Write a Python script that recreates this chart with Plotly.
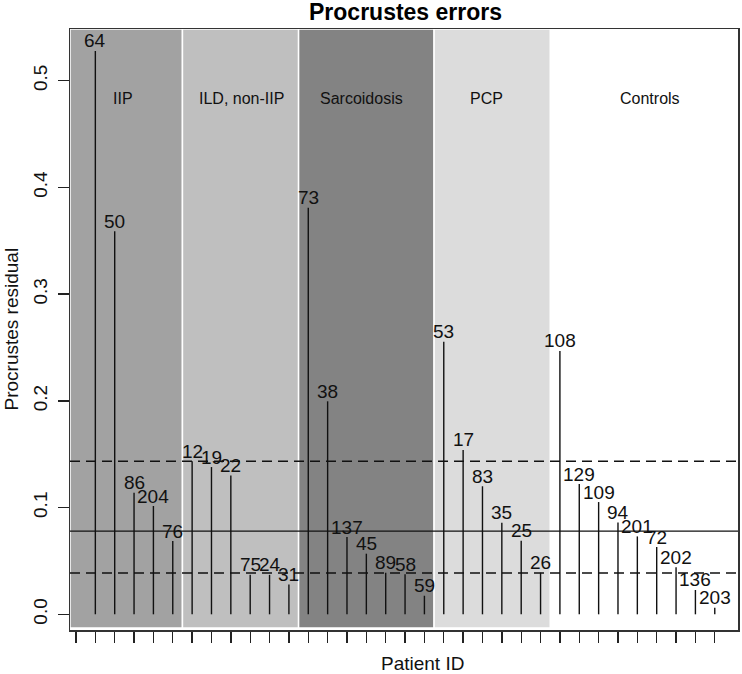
import plotly.graph_objects as go

# ---- data ----
patient_ids = ["64", "50", "86", "204", "76",
               "12", "19", "22", "75", "24", "31",
               "73", "38", "137", "45", "89", "58", "59",
               "53", "17", "83", "35", "25", "26",
               "108", "129", "109", "94", "201", "72", "202", "136", "203"]
residuals = [0.528, 0.359, 0.114, 0.1015, 0.0687,
             0.1434, 0.138, 0.130, 0.037, 0.037, 0.028,
             0.381, 0.1996, 0.0724, 0.0568, 0.039, 0.0375, 0.0174,
             0.2555, 0.154, 0.120, 0.0859, 0.069, 0.039,
             0.2468, 0.1221, 0.1052, 0.086, 0.073, 0.063, 0.044, 0.0228, 0.0062]
group_names = ["IIP", "ILD, non-IIP", "Sarcoidosis", "PCP", "Controls"]
group_sizes = [5, 6, 7, 6, 9]
group_colors = ["#a2a2a2", "#bfbfbf", "#838383", "#dcdcdc", "#ffffff"]
group_label_x = [2.42, 8.54, 14.77, 21.2, 29.67]
group_label_y = 0.483
ref_solid = 0.078
ref_dashed = [0.1434, 0.0387]

x_range = [-0.309, 34.2]
y_range = [-0.0147, 0.5485]

xs = list(range(1, len(residuals) + 1))

fig = go.Figure()

# group shading
shapes = []
start = x_range[0]
edge = 0.5
for name, n, col in zip(group_names, group_sizes, group_colors):
    end = edge + n
    if col.lower() != "#ffffff":
        shapes.append(dict(type="rect", xref="x", yref="y", x0=start, x1=end,
                           y0=-0.0128, y1=y_range[1], fillcolor=col,
                           line=dict(color="white", width=1.5), layer="below"))
    start = end
    edge = end

# reference lines
shapes.append(dict(type="line", xref="x domain", yref="y", x0=0, x1=1,
                   y0=ref_solid, y1=ref_solid,
                   line=dict(color="#111111", width=1.4), layer="above"))
for v in ref_dashed:
    shapes.append(dict(type="line", xref="x domain", yref="y", x0=0, x1=1,
                       y0=v, y1=v,
                       line=dict(color="#111111", width=1.4, dash="10px,6px"),
                       layer="above"))

# vertical lines (type="h")
lx, ly = [], []
for x, v in zip(xs, residuals):
    lx += [x, x, None]
    ly += [0, v, None]
fig.add_trace(go.Scatter(x=lx, y=ly, mode="lines",
                         line=dict(color="#111111", width=1.4),
                         hoverinfo="skip", showlegend=False))

annotations = []
for x, v, pid in zip(xs, residuals, patient_ids):
    annotations.append(dict(x=x, y=v, xref="x", yref="y", text=pid,
                            showarrow=False, xanchor="center", yanchor="middle",
                            yshift=10, font=dict(size=19, color="#111111")))
for name, gx in zip(group_names, group_label_x):
    annotations.append(dict(x=gx, y=group_label_y, xref="x", yref="y", text=name,
                            showarrow=False, xanchor="center", yanchor="middle",
                            font=dict(size=16, color="#111111")))
# title and axis titles
annotations.append(dict(x=0.5015, y=1, xref="paper", yref="paper",
                        text="<b>Procrustes errors</b>", showarrow=False,
                        xanchor="center", yanchor="middle", yshift=17,
                        font=dict(size=23, color="#000000")))
annotations.append(dict(x=0.527, y=0, xref="paper", yref="paper",
                        text="Patient ID", showarrow=False, borderpad=0,
                        xanchor="center", yanchor="middle", yshift=-33,
                        font=dict(size=19, color="#111111")))
annotations.append(dict(x=0, y=0.5, xref="paper", yref="paper",
                        text="Procrustes residual", showarrow=False, textangle=-90,
                        xanchor="center", yanchor="middle", xshift=-59,
                        font=dict(size=19, color="#111111")))

fig.update_layout(
    width=742, height=674,
    margin=dict(l=70, r=2, t=29, b=44),
    paper_bgcolor="white", plot_bgcolor="white",
    font=dict(family="Liberation Sans, Arial, sans-serif", color="#111111"),
    shapes=shapes, annotations=annotations, showlegend=False,
    xaxis=dict(range=x_range, tickmode="array", tickvals=list(range(0, 34)),
               showticklabels=False, ticks="outside", ticklen=11, tickwidth=1.4,
               tickcolor="#222222", showgrid=False, zeroline=False,
               showline=True, linecolor="#333333", linewidth=1.5, mirror=True),
    yaxis=dict(range=y_range, tickmode="array",
               tickvals=[0, 0.1, 0.2, 0.3, 0.4, 0.5],
               ticktext=["0.0", "0.1", "0.2", "0.3", "0.4", "0.5"],
               tickangle=-90, ticks="outside", ticklen=11, tickwidth=1.4,
               ticklabelstandoff=3,
               tickcolor="#222222", tickfont=dict(size=19, color="#111111"),
               showgrid=False, zeroline=False,
               showline=True, linecolor="#333333", linewidth=1.5, mirror=True),
)

fig.write_html("out.html",
               config={"displayModeBar": False, "staticPlot": True},
               post_script="document.body.style.margin='0';"
                           "document.body.style.overflow='hidden';")
